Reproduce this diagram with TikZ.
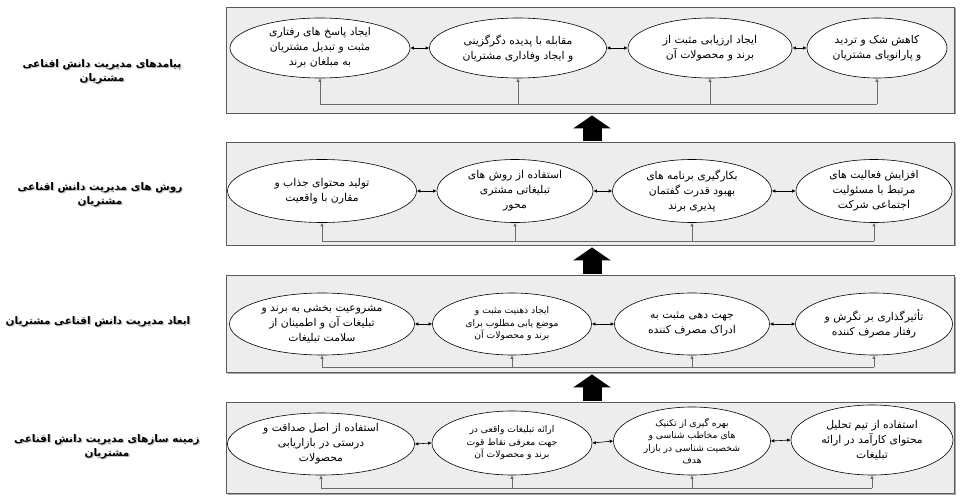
\documentclass[tikz,border=0pt]{standalone}
\usepackage{fontspec}
\usetikzlibrary{shapes.geometric,arrows.meta,calc,shadows}
\TeXXeTstate=1
\newfontfamily\fa[Script=Arabic]{DejaVu Sans}
\newcommand\rl[1]{\beginR #1\endR}
\definecolor{boxfill}{HTML}{EDEDED}
\definecolor{boxline}{HTML}{5A5A5A}
\definecolor{fbline}{HTML}{6A6A6A}
\tikzset{
  rowbox/.style={rectangle, draw=boxline, fill=boxfill, line width=0.9pt, inner sep=0pt,
    drop shadow={shadow xshift=1.5pt, shadow yshift=-1.5pt, fill=gray!70, opacity=1}},
  ell/.style={ellipse, draw=black, fill=white, line width=0.6pt, inner sep=0pt, align=center,
    font=\fa\fontsize{10.8}{15}\selectfont},
  ellsmall/.style={ell, font=\fa\fontsize{9.2}{12.5}\selectfont},
  dbl/.style={line width=0.6pt, {Latex[length=3.5pt,width=3.5pt]}-{Latex[length=3.5pt,width=3.5pt]}},
  fb/.style={draw=fbline, line width=0.6pt},
  fbarrow/.style={fb, -{Latex[length=3.5pt,width=3.5pt]}},
  bigarrow/.style={line width=19pt, -{Triangle[length=13pt,width=37pt]}},
  lbl/.style={align=center, font=\fa\bfseries\fontsize{10.5}{14}\selectfont},
  lblshadow/.style={lbl, text=gray!45}
}
\begin{document}
\begin{tikzpicture}[x=1pt,y=-1pt]
\useasboundingbox (0,0) rectangle (964,497);

% row boxes
\node[rowbox, minimum width=728pt, minimum height=106pt] (box1) at (590,60) {};
\node[rowbox, minimum width=728pt, minimum height=103pt] (box2) at (590,193.5) {};
\node[rowbox, minimum width=728pt, minimum height=97pt] (box3) at (590,323.5) {};
\node[rowbox, minimum width=728pt, minimum height=91pt] (box4) at (590,447.5) {};

% big arrows
\draw[bigarrow] ($(box2.north)+(2,-1)$) -- ($(box1.south)+(2,2)$);
\draw[bigarrow] ($(box3.north)+(2,-1)$) -- ($(box2.south)+(2,2)$);
\draw[bigarrow] ($(box4.north)+(2,-1)$) -- ($(box3.south)+(2,2)$);

% row labels
\foreach \dx/\dy/\st in {1.2/1.2/lblshadow, 0/0/lbl}{
\node[\st] (lab1\st) at (102+\dx,72+\dy) {\rl{پیامدهای مدیریت دانش اقناعی}\\\rl{مشتریان}};
\node[\st] (lab2\st) at (100+\dx,195+\dy) {\rl{روش های مدیریت دانش اقناعی}\\\rl{مشتریان}};
\node[\st] (lab3\st) at (98+\dx,322+\dy) {\rl{ابعاد مدیریت دانش اقناعی مشتریان}};
\node[\st] (lab4\st) at (107+\dx,447+\dy) {\rl{زمینه سازهای مدیریت دانش اقناعی}\\\rl{مشتریان}};
}

% row 1
\node[ell, minimum width=180pt, minimum height=60pt] (r1a) at (320,48) {\rl{ایجاد پاسخ های رفتاری}\\\rl{مثبت و تبدیل مشتریان}\\\rl{به مبلغان برند}};
\node[ell, minimum width=177pt, minimum height=60pt] (r1b) at (518,48) {\rl{مقابله با پدیده دگرگزینی}\\\rl{و ایجاد وفاداری مشتریان}};
\node[ell, minimum width=164pt, minimum height=60pt] (r1c) at (710,48) {\rl{ایجاد ارزیابی مثبت از}\\\rl{برند و محصولات آن}};
\node[ell, minimum width=140pt, minimum height=60pt] (r1d) at (877,48) {\rl{کاهش شک و تردید}\\\rl{و پارانویای مشتریان}};
\coordinate (bus1) at (0,104);

% row 2
\node[ell, minimum width=189pt, minimum height=63pt] (r2a) at (322,191) {\rl{تولید محتوای جذاب و}\\\rl{مقارن با واقعیت}};
\node[ell, minimum width=156pt, minimum height=63pt] (r2b) at (515,191) {\rl{استفاده از روش های}\\\rl{تبلیغاتی مشتری}\\\rl{محور}};
\node[ell, minimum width=159pt, minimum height=63pt] (r2c) at (692,191) {\rl{بکارگیری برنامه های}\\\rl{بهبود قدرت گفتمان}\\\rl{پذیری برند}};
\node[ell, minimum width=156pt, minimum height=63pt] (r2d) at (874,191) {\rl{افزایش فعالیت های}\\\rl{مرتبط با مسئولیت}\\\rl{اجتماعی شرکت}};
\coordinate (bus2) at (0,241);

% row 3
\node[ell, minimum width=185pt, minimum height=62pt] (r3a) at (322,324) {\rl{مشروعیت بخشی به برند و}\\\rl{تبلیغات آن و اطمینان از}\\\rl{سلامت تبلیغات}};
\node[ellsmall, minimum width=159pt, minimum height=62pt] (r3b) at (512,324) {\rl{ایجاد ذهنیت مثبت و}\\\rl{موضع یابی مطلوب برای}\\\rl{برند و محصولات آن}};
\node[ell, minimum width=155pt, minimum height=62pt] (r3c) at (692,324) {\rl{جهت دهی مثبت به}\\\rl{ادراک مصرف کننده}};
\node[ell, minimum width=157pt, minimum height=62pt] (r3d) at (874,324) {\rl{تأثیرگذاری بر نگرش و}\\\rl{رفتار مصرف کننده}};
\coordinate (bus3) at (0,367);

% row 4
\node[ell, minimum width=187pt, minimum height=62pt] (r4a) at (321,444) {\rl{استفاده از اصل صداقت و}\\\rl{درستی در بازاریابی}\\\rl{محصولات}};
\node[ellsmall, minimum width=160pt, minimum height=64pt] (r4b) at (512,443) {\rl{ارائه تبلیغات واقعی در}\\\rl{جهت معرفی نقاط قوت}\\\rl{برند و محصولات آن}};
\node[ellsmall, minimum width=157pt, minimum height=68pt] (r4c) at (692,441) {\rl{بهره گیری از تکنیک}\\\rl{های مخاطب شناسی و}\\\rl{شخصیت شناسی در بازار}\\\rl{هدف}};
\node[ell, minimum width=162pt, minimum height=70pt] (r4d) at (872,440) {\rl{استفاده از تیم تحلیل}\\\rl{محتوای کارآمد در ارائه}\\\rl{تبلیغات}};
\coordinate (bus4) at (0,488);

% connectors
\foreach \r in {1,2,3,4}{
  \draw[dbl] (r\r a.east) -- (r\r b.west);
  \draw[dbl] (r\r b.east) -- (r\r c.west);
  \draw[dbl] (r\r c.east) -- (r\r d.west);
  \draw[fb] (r\r a.south |- bus\r) -- (r\r d.south |- bus\r);
  \foreach \e in {a,b,c,d}{
    \draw[fbarrow] (r\r\e.south |- bus\r) -- (r\r\e.south);
  }
}
\end{tikzpicture}
\end{document}
